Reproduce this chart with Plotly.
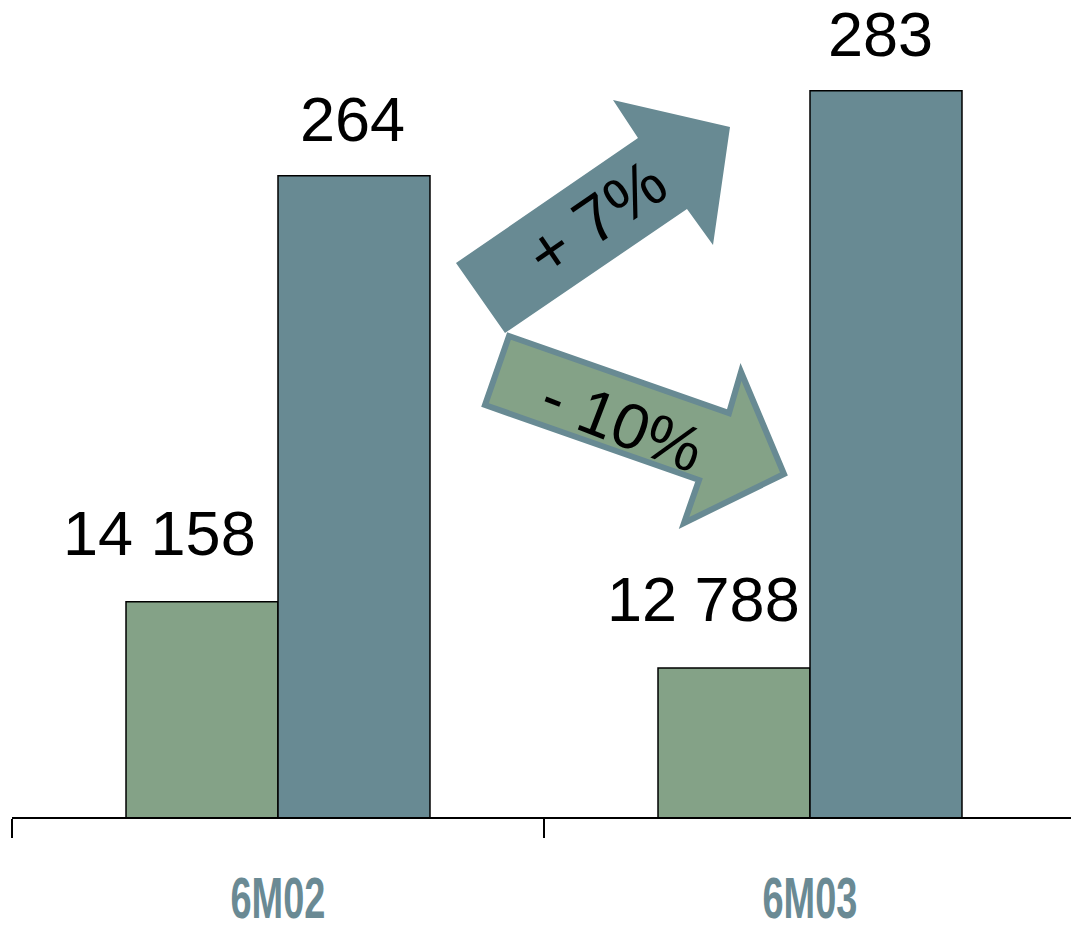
import plotly.graph_objects as go

# ---------------- data ----------------
categories = ["6M02", "6M03"]
volume = [14158, 12788]        # green bars (left scale)
value = [264, 283]             # blue-grey bars (right scale)
change_value = "+ 7%"
change_volume = "- 10%"

GREEN = "#84A287"
BLUE = "#688A93"
LABEL = "#6A8A94"

W, H = 1071, 925
L, B = 12, 108
PW, PH = W - L, H - B


def fmt(v):
    return f"{v:,}".replace(",", " ")


def paper(x, y):
    return (x - L) / PW, (PH - y) / PH


def path(pts):
    p = [paper(x, y) for x, y in pts]
    return "M " + " L ".join(f"{a:.5f},{b:.5f}" for a, b in p) + " Z"


BW = 0.2857
fig = go.Figure()
fig.add_bar(x=categories, y=volume, yaxis="y", width=BW, offset=-BW,
            marker=dict(color=GREEN, line=dict(color="black", width=1.5)),
            showlegend=False)
fig.add_bar(x=categories, y=value, yaxis="y2", width=BW, offset=0,
            marker=dict(color=BLUE, line=dict(color="black", width=1.5)),
            showlegend=False)

NUMFONT = dict(family="Liberation Sans, Arial, sans-serif", size=63, color="black")
ann = []
g_shift = [-119, -107]
b_shift = [74, 70]
for i, c in enumerate(categories):
    ann.append(dict(x=c, y=volume[i], xref="x", yref="y", text=fmt(volume[i]),
                    showarrow=False, xanchor="center", yanchor="bottom",
                    xshift=g_shift[i], yshift=32, font=NUMFONT))
    ann.append(dict(x=c, y=value[i], xref="x", yref="y2", text=fmt(value[i]),
                    showarrow=False, xanchor="center", yanchor="bottom",
                    xshift=b_shift[i], yshift=20, font=NUMFONT))

# arrows (decorations)
up_arrow = [(456, 263), (638, 138), (613, 100), (730, 127), (713, 245), (687, 209), (505, 333)]
down_arrow = [(509, 336), (729, 413), (741, 372), (784, 474), (684, 523), (699, 480), (485, 405)]
shapes = [
    dict(type="path", xref="paper", yref="paper", path=path(up_arrow),
         fillcolor=BLUE, line=dict(width=0), layer="above"),
    dict(type="path", xref="paper", yref="paper", path=path(down_arrow),
         fillcolor=GREEN, line=dict(color=BLUE, width=6), layer="above"),
]
ax, ay = paper(596, 218)
ann.append(dict(x=ax, y=ay, xref="paper", yref="paper", text=change_value, showarrow=False,
                textangle=-34.5, xanchor="center", yanchor="middle",
                font=dict(family="Liberation Sans, Arial, sans-serif", size=66, color="black")))
ax, ay = paper(622, 423)
ann.append(dict(x=ax, y=ay, xref="paper", yref="paper", text=change_volume, showarrow=False,
                textangle=21, xanchor="center", yanchor="middle",
                font=dict(family="Liberation Sans, Arial, sans-serif", size=64, color="black")))

fig.update_layout(
    width=W, height=H, autosize=False,
    margin=dict(l=L, r=0, t=0, b=B, pad=0, autoexpand=False),
    paper_bgcolor="white", plot_bgcolor="white",
    showlegend=False,
    xaxis=dict(type="category", range=[-0.5, -0.5 + PW / 532], showgrid=False,
               automargin=False,
               showline=True, linecolor="black", linewidth=1.5,
               ticks="outside", tickson="boundaries", ticklen=19, tickwidth=1.5,
               tickcolor="black", ticklabelstandoff=30,
               tickfont=dict(family="Liberation Sans, Arial, sans-serif",
                             size=58, color=LABEL, weight="bold"),
               zeroline=False),
    yaxis=dict(range=[9705, 26600], visible=False, showgrid=False, automargin=False),
    yaxis2=dict(range=[121.1, 303.2], overlaying="y", side="right", visible=False,
                showgrid=False, automargin=False),
    annotations=ann,
    shapes=shapes,
)

post = """
document.body.style.margin='0';
document.documentElement.style.overflow='hidden';
document.querySelectorAll('.xtick text').forEach(function(t){
  t.setAttribute('textLength','95');
  t.setAttribute('lengthAdjust','spacingAndGlyphs');
});
"""

fig.write_html("out.html", post_script=post,
               config={"responsive": False, "displayModeBar": False, "staticPlot": True})
